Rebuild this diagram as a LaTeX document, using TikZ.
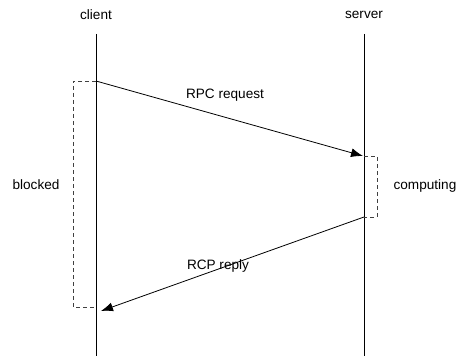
\documentclass[tikz,border=0pt]{standalone}
\usepackage{fontspec}
\setmainfont{Liberation Sans}
\usetikzlibrary{arrows.meta}

\begin{document}
\begin{tikzpicture}[x=1pt,y=-1pt,font=\fontsize{13.6}{16}\selectfont,
  lifeline/.style={line width=0.9pt},
  msg/.style={line width=0.8pt,-{Latex[length=12pt,width=9pt]}},
  span/.style={line width=0.7pt,dash pattern=on 4pt off 3pt,black!75}]
\useasboundingbox (0,0) rectangle (457,358);
% \draw[style=help lines,gray!50] (0,0) grid[step=50] (457,358);
\node (C) at (96,15) {client};
\node (S) at (364,15) {server};
\coordinate (Ctop) at (96,34) ;
\coordinate (Cbot) at (96,356) ;
\coordinate (Stop) at (364,34) ;
\coordinate (Sbot) at (364,356) ;
\draw[lifeline] (Ctop) -- (Cbot);
\draw[lifeline] (Stop) -- (Sbot);
\coordinate (Csend) at (96,81) ;
\coordinate (Srecv) at (363,156) ;
\coordinate (Ssend) at (364,217) ;
\coordinate (Crecv) at (101,311) ;
\draw[msg] (Csend) -- (Srecv);
\draw[msg] (Ssend) -- (Crecv);
\node (req) at (225,95) {RPC request};
\node (rep) at (218,266) {RCP reply};
\draw[span] (Csend) -- ++(-23,0) |- (96,307);
\draw[span] (364,156) -- ++(13,0) |- (Ssend);
\node (blk) at (36,185) {blocked};
\node (cmp) at (425,186) {computing};
\end{tikzpicture}
\end{document}
